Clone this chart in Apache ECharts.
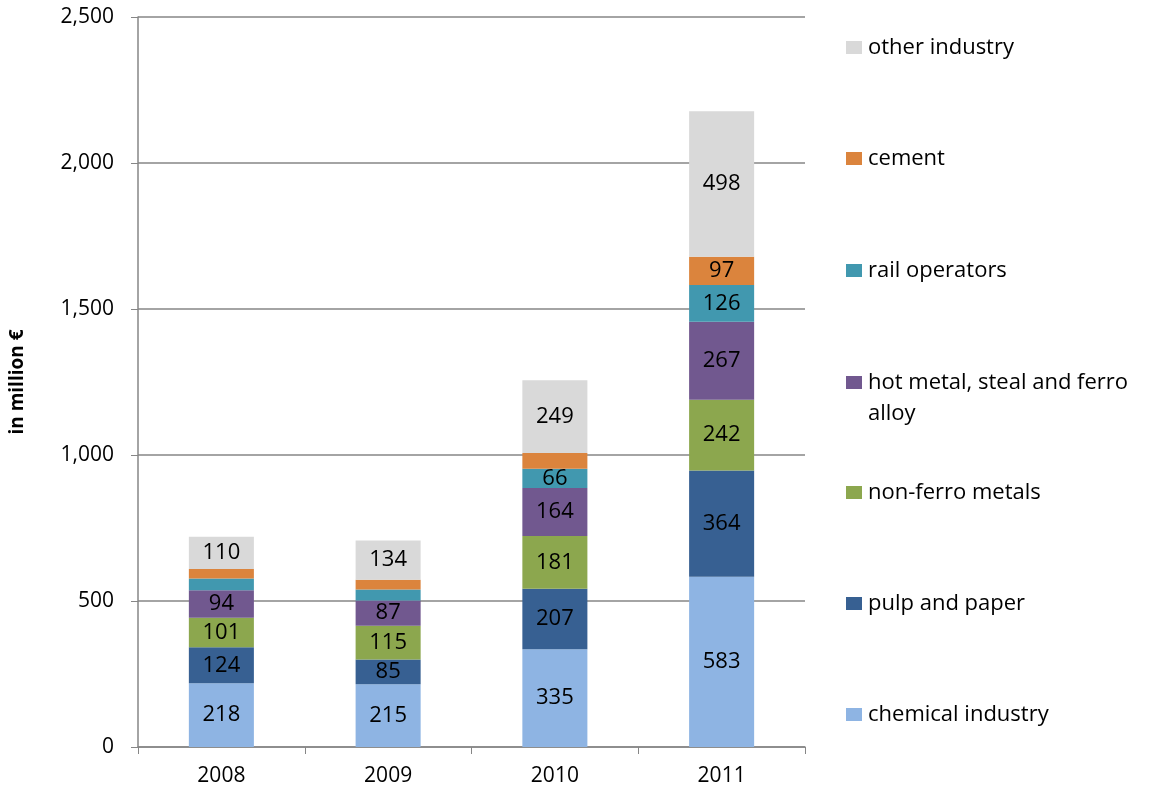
<!DOCTYPE html>
<html>
<head>
<meta charset="utf-8">
<script src="https://cdn.jsdelivr.net/npm/echarts@6/dist/echarts.min.js"></script>
<style>
  html, body { margin: 0; padding: 0; background: #fff; }
  #chart { width: 1154px; height: 796px; }
</style>
</head>
<body>
<div id="chart"></div>
<script>
const years = ["2008", "2009", "2010", "2011"];
const seriesNames = [
  "chemical industry",
  "pulp and paper",
  "non-ferro metals",
  "hot metal, steal and ferro alloy",
  "rail operators",
  "cement",
  "other industry"
];
const chemical = [218, 215, 335, 583];
const pulpPaper = [124, 85, 207, 364];
const nonFerro = [101, 115, 181, 242];
const hotMetal = [94, 87, 164, 267];
const railOperators = [40, 37, 66, 126];
const cement = [33, 34, 54, 97];
const otherIndustry = [110, 134, 249, 498];
const yTicks = [0, 500, 1000, 1500, 2000, 2500];

const seriesValues = [chemical, pulpPaper, nonFerro, hotMetal, railOperators, cement, otherIndustry];
const colors = ["#8EB4E3", "#376092", "#8CA74E", "#71588F", "#4198AF", "#DB843D", "#D9D9D9"];

const font = "Open Sans";
const chart = echarts.init(document.getElementById("chart"));

// one legend per item so the spacing matches the original (top to bottom, reversed)
const legendTops = [27, 138, 250, 331, 472, 583, 694];
const legends = seriesNames.slice().reverse().map((name, i) => ({
  data: [name],
  left: 841,
  top: legendTops[i],
  orient: "vertical",
  itemWidth: 16,
  itemHeight: 13,
  itemGap: 0,
  icon: "rect",
  selectedMode: false,
  formatter: n => n === "hot metal, steal and ferro alloy" ? "\nhot metal, steal and ferro\nalloy" : n,
  textStyle: { fontFamily: font, fontSize: 22, color: "#000", lineHeight: 31, padding: [0, 0, 0, 1] }
}));

const option = {
  animation: false,
  color: colors,
  legend: legends,
  grid: { left: 138, right: 349, top: 17, bottom: 49 },
  xAxis: {
    type: "category",
    data: years,
    axisLine: { lineStyle: { color: "#868686", width: 1.5 } },
    axisTick: { show: true, length: 7, lineStyle: { color: "#868686" } },
    axisLabel: { fontFamily: font, fontSize: 21, color: "#000", margin: 19 }
  },
  yAxis: {
    type: "value",
    min: 0,
    max: 2500,
    interval: 500,
    name: "in million €",
    nameLocation: "middle",
    nameGap: 111,
    nameTextStyle: { fontFamily: font, fontSize: 19, fontWeight: "bold", color: "#000" },
    axisLine: { show: true, lineStyle: { color: "#868686", width: 1.5 } },
    axisTick: { show: true, length: 7, lineStyle: { color: "#868686" } },
    axisLabel: {
      fontFamily: font, fontSize: 21, color: "#000", margin: 24,
      formatter: v => yTicks.includes(v) ? v.toLocaleString("en-US") : ""
    },
    splitLine: { lineStyle: { color: "#868686", width: 1.5 } }
  },
  series: seriesNames.map((name, i) => ({
    name,
    type: "bar",
    stack: "total",
    barWidth: "39%",
    data: seriesValues[i],
    label: {
      show: true,
      position: "inside",
      fontFamily: font,
      fontSize: 22,
      color: "#000",
      formatter: p => p.value < 60 ? "" : String(p.value)
    }
  }))
};

chart.setOption(option);
</script>
</body>
</html>
